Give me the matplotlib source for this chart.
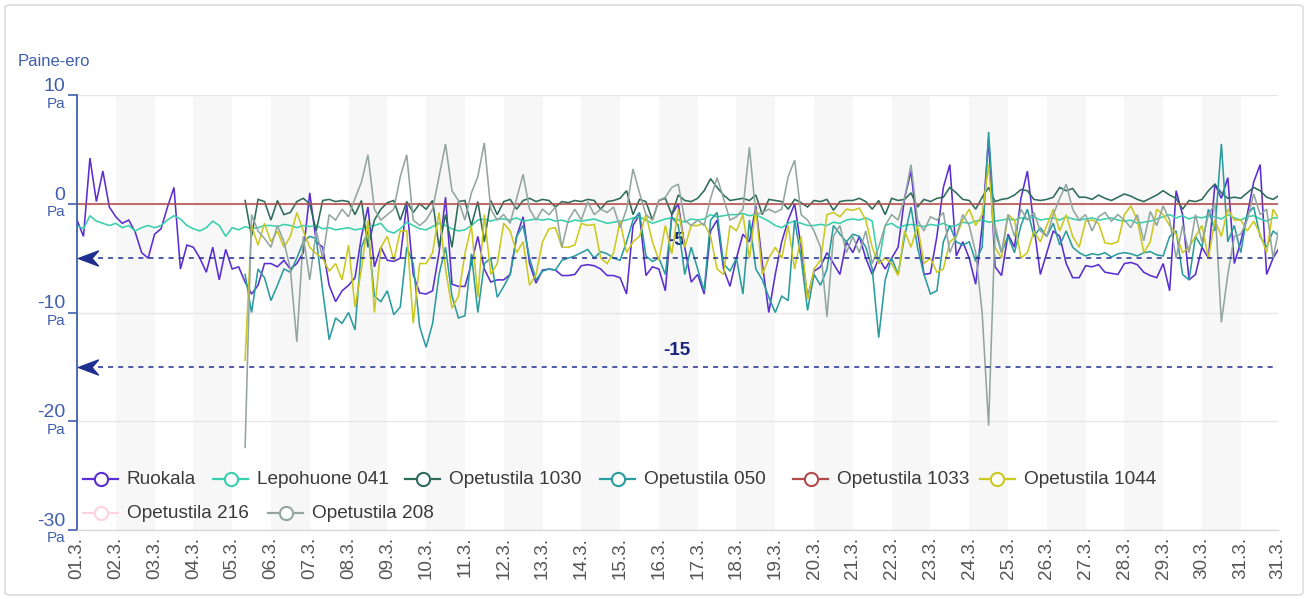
import numpy as np
import matplotlib
matplotlib.use("Agg")
import matplotlib.pyplot as plt
from matplotlib.lines import Line2D
from matplotlib.patches import FancyBboxPatch
from matplotlib.path import Path

plt.rcParams['font.family'] = ['Liberation Sans', 'DejaVu Sans']

nan = np.nan
STEP_HOURS = 4  # sample spacing of the series below (6 samples per day, starting 01.3. 00:00)

# ---------------- data (Pa) ----------------
ruokala = [
    -1.5, -3.0, 4.2, 0.2, 3.0, -0.3,
    -1.2, -1.8, -1.5, -2.6, -4.5, -5.0,
    -2.8, -2.3, -0.3, 1.5, -6.0, -3.8,
    -4.0, -5.0, -6.3, -4.0, -7.0, -4.2,
    -6.0, -5.8, -7.2, -8.3, -7.5, -5.5,
    -5.5, -5.8, -5.2, -6.0, -5.5, -4.5,
    1.0, -3.5, -4.0, -7.5, -9.0, -8.0,
    -7.5, -6.8, -3.0, -0.3, -5.8, -4.0,
    -5.2, -5.3, -5.0, 0.0, -6.5, -8.2,
    -8.3, -8.0, -4.5, 0.6, -7.4, -7.6,
    -7.6, -5.5, -3.0, -6.0, -7.2, -7.0,
    -7.0, -6.5, -3.0, -1.2, -5.5, -7.3,
    -6.1, -6.0, -6.1, -6.6, -6.6, -6.5,
    -5.7, -5.6, -5.7, -6.0, -6.6, -6.6,
    -6.8, -8.3, -2.0, -1.0, -6.6, -5.8,
    -6.0, -8.0, -1.0, 0.0, -4.0, -7.2,
    -6.5, -8.3, -2.5, -1.5, -6.0, -7.6,
    -5.0, -2.8, -3.5, -0.2, -5.5, -10.0,
    -6.5, -3.5, -1.5, 0.0, -4.0, -8.6,
    -6.2, -5.8, -4.5, -5.5, -6.5, -3.5,
    -4.5, -3.0, -5.0, -6.5, -5.0, -6.0,
    -5.0, -4.0, 0.5, 3.0, -2.5, -6.5,
    -6.4, -3.0, 1.5, 3.6, -4.8, -3.5,
    -5.0, -7.4, -2.0, 6.0, -5.8, -6.6,
    -2.8, -4.0, 0.5, 3.0, -2.0, -6.5,
    -4.5, -2.5, -3.0, -5.5, -6.8, -6.8,
    -5.7, -5.8, -5.6, -6.3, -6.4, -6.5,
    -5.5, -5.4, -5.6, -6.3, -6.6, -6.8,
    -5.5, -8.0, 1.2, -1.0, -7.0, -6.5,
    -4.0, -5.0, 1.8, 0.5, 2.4, -5.5,
    -3.5, -1.0, 2.0, 3.6, -6.5, -5.0,
    -4.0,
]

lepohuone_041 = [
    -2.0, -2.3, -1.1, -1.6, -1.8, -2.0,
    -1.8, -2.2, -2.0, -2.5, -2.2, -2.0,
    -2.2, -2.0, -1.5, -1.1, -1.4, -2.0,
    -2.3, -2.5, -2.2, -1.6, -2.0, -3.0,
    -2.2, -2.4, -2.1, -2.3, -2.2, -2.0,
    -2.0, -2.1, -1.9, -2.0, -2.2, -2.0,
    -2.1, -2.0, -2.3, -2.2, -2.4, -2.3,
    -2.2, -2.4, -2.3, -2.1, -2.0, -1.8,
    -2.5, -2.7, -2.3, -1.7, -2.0, -2.3,
    -2.4, -2.1, -1.8, -2.0, -2.3, -2.5,
    -2.4, -2.0, -1.5, -1.4, -1.6, -1.4,
    -1.4, -1.5, -1.3, -1.6, -1.5, -1.4,
    -1.5, -1.4, -1.6, -1.5, -1.7, -1.5,
    -1.6, -1.5, -1.4, -1.6, -1.8, -1.7,
    -1.6, -1.5, -1.3, -1.2, -1.5, -1.8,
    -1.6, -1.4, -1.3, -1.5, -1.7, -1.4,
    -1.5, -1.4, -1.0, -1.2, -1.1, -1.0,
    -1.0, -0.9, -1.1, -1.0, -1.3, -1.6,
    -2.0, -2.2, -1.8, -1.6, -1.8, -2.0,
    -2.0, -1.9, -2.0, -1.7, -1.8, -1.5,
    -1.4, -1.5, -1.3, -1.6, -5.5, -2.0,
    -1.8, -2.2, -2.0, -1.9, -2.0, -2.1,
    -1.9, -2.0, -1.8, -2.1, -2.0, -1.7,
    -1.8, -1.6, -1.5, -1.7, -1.6, -1.5,
    -1.4, -1.5, -1.3, -1.4, -1.2, -1.5,
    -1.4, -1.3, -1.5, -1.2, -1.4, -1.5,
    -1.4, -1.3, -1.5, -1.4, -1.3, -1.5,
    -1.6, -1.5, -1.8, -1.7, -1.6, -1.4,
    -1.2, -1.0, -1.3, -1.1, -1.4, -1.2,
    -1.3, -1.1, -1.2, -1.4, -1.0, -1.3,
    -1.5, -1.2, -1.1, -1.4, -1.6, -1.3,
    -1.3,
]

# sensors below started reporting on 05.3. 08:00 (no data before)
opetustila_1030 = [nan] * 26 + [
    0.3, -3.0, 0.4, 0.2,
    -1.5, 0.3, -1.0, -0.8, 0.2, 0.5,
    0.0, -2.5, 0.3, 0.4, 0.2, 0.3,
    0.2, -1.0, 0.3, -4.0, -1.5, -0.5,
    0.1, 0.3, -1.5, 0.2, -0.8, 0.0,
    -0.5, 0.3, -4.0, -1.0, -4.0, 0.2,
    0.3, -2.0, 0.2, -3.5, 0.3, -1.0,
    0.2, 0.4, -0.5, 0.3, 0.5, 0.2,
    0.4, 0.3, -0.3, 0.2, 0.1, 0.3,
    0.2, 0.4, 0.3, -0.5, 0.2, 0.3,
    0.5, 1.2, -1.0, 0.4, 0.2, -1.5,
    0.3, 0.5, -1.0, 0.8, 0.3, 0.2,
    0.5, 1.2, 2.3, 1.5, 0.8, 0.3,
    0.4, 0.5, 0.3, 0.8, -1.0, 0.4,
    0.3, 0.2, -0.5, 0.4, 0.1, -0.3,
    0.3, 0.2, 0.4, -0.6, 0.2, 0.3,
    0.3, 0.5, 0.2, -0.5, 0.3, -1.0,
    0.5, 0.3, 0.4, 1.0, -0.3, 0.4,
    0.2, 0.5, 0.6, 1.5, 1.0, 0.4,
    0.3, -0.5, 0.6, 1.5, 0.2, 0.4,
    0.5, 0.8, 1.3, 1.2, 0.4, 0.3,
    0.4, 0.6, 1.5, 1.2, 1.4, 0.6,
    0.6, 0.4, 0.8, 0.5, 0.3, 0.6,
    0.9, 0.7, 0.4, 0.2, 0.5, 0.8,
    1.2, 0.8, 0.5, -0.5, 0.3, 0.2,
    0.4, 1.2, 1.8, 1.0, 0.5, 0.6,
    0.5, 1.0, 1.5, 1.2, 0.6, 0.4,
    0.8,
]

opetustila_050 = [nan] * 26 + [
    -6.5, -10.0, -6.0, -6.8,
    -8.9, -7.5, -6.0, -6.3, -5.0, -3.5,
    -3.0, -3.2, -8.0, -12.5, -10.5, -11.0,
    -10.0, -11.6, -4.0, -2.5, -8.5, -9.0,
    -8.0, -10.2, -9.5, -4.0, -5.5, -11.3,
    -13.2, -11.0, -6.5, -4.0, -8.5, -10.5,
    -10.3, -4.6, -10.0, -5.5, -5.0, -8.6,
    -7.6, -6.5, -3.0, -2.0, -5.0, -7.0,
    -6.2, -6.0, -6.1, -5.2, -5.0, -4.8,
    -4.5, -4.2, -5.0, -4.4, -4.6, -5.0,
    -5.2, -3.5, -1.5, -0.8, -4.8, -5.3,
    -5.0, -6.5, -1.2, -2.0, -6.5, -4.0,
    -6.0, -8.0, -1.5, -0.8, -5.5, -6.2,
    -5.0, -8.3, -1.5, -6.0, -7.0, -8.6,
    -10.0, -8.5, -8.9, -1.5, -5.0, -9.8,
    -6.5, -7.5, -6.0, -2.0, -2.8, -3.5,
    -2.8, -3.0, -4.0, -6.0, -12.3, -7.0,
    -5.0, -6.5, -3.0, -0.3, -4.0, -6.5,
    -8.3, -8.0, -3.5, -2.0, -3.5, -3.8,
    -3.5, -5.3, -4.0, 6.6, -2.5, -4.5,
    -3.0, -4.5, -2.0, -0.5, -3.0, -2.2,
    -3.0, -1.8, -3.8, -2.5, -4.0, -4.5,
    -4.8, -4.6, -4.7, -4.5, -4.9, -4.6,
    -4.5, -4.6, -4.8, -4.5, -4.4, -4.7,
    -4.8, -3.0, -2.5, -6.5, -7.0, -3.0,
    -4.0, -0.5, -2.5, 5.5, -3.5, -2.0,
    -4.5, -1.0, -0.3, -3.0, -4.0, -2.5,
    -3.0,
]

# flat sensor, one value per day (01.3. ... 01.4.)
opetustila_1033 = [
    0.0, 0.0, 0.0, 0.0, 0.0, 0.0, 0.0, 0.0,
    0.0, 0.0, 0.0, 0.0, 0.0, 0.0, 0.0, 0.0,
    0.0, 0.0, 0.0, 0.0, 0.0, 0.0, 0.0, 0.0,
    0.0, 0.0, 0.0, 0.0, 0.0, 0.0, 0.0, 0.0,
]

opetustila_1044 = [nan] * 26 + [
    -14.4, -2.0, -3.8, -1.8,
    -3.5, -2.5, -4.0, -3.0, -0.8, -2.5,
    -4.0, -4.6, -5.0, -6.2, -5.5, -7.0,
    -3.8, -9.5, -6.0, -1.5, -10.0, -4.0,
    -3.0, -5.2, -2.5, -2.5, -11.0, -5.5,
    -5.5, -4.5, -0.8, -6.0, -9.6, -8.5,
    -4.6, -2.0, -8.6, -1.0, -6.5, -5.5,
    -1.8, -2.5, -4.5, -3.5, -7.5, -6.5,
    -3.5, -2.3, -2.2, -4.0, -4.0, -3.8,
    -1.8, -2.0, -1.9, -5.0, -5.5, -4.5,
    -1.6, -4.5, -3.5, -3.0, -1.0, -3.5,
    -5.2, -2.0, -4.6, -0.5, -4.0, -2.0,
    -2.0, -1.8, -3.0, -6.0, -6.5, -2.0,
    -2.5, -1.0, -5.0, -0.5, -6.5, -5.0,
    -4.0, -5.0, -2.0, -6.0, -3.0, -8.8,
    -6.0, -5.2, -1.0, -0.8, -1.2, -0.5,
    -0.6, -0.4, -1.5, -4.0, -5.5, -5.0,
    -5.5, -6.6, -2.5, -4.0, -2.0, -5.5,
    -5.0, -6.3, -6.0, -3.5, -3.0, -1.5,
    -0.5, -2.0, -1.0, 3.6, -4.0, -5.0,
    -1.0, -1.5, -5.0, -4.5, -2.5, -3.5,
    -2.0, -0.5, -2.5, -1.0, -3.0, -4.0,
    -1.6, -1.5, -1.8, -3.6, -3.7, -3.5,
    -1.0, -0.2, -1.5, -4.5, -3.5, -0.5,
    -1.0, -2.0, -2.8, -4.5, -4.0, -3.0,
    -2.0, -5.0, -1.5, -3.0, -0.5, -1.5,
    -1.5, -2.5, -1.6, -2.8, -4.5, -0.5,
    -1.5,
]

opetustila_216 = []  # no data in this period

opetustila_208 = [nan] * 26 + [
    -22.4, -1.0, -2.5, -3.2,
    -4.0, -2.0, -3.5, -6.0, -12.7, -3.0,
    -7.0, -2.5, -5.0, -1.0, -1.5, -0.5,
    -1.2, 0.5, 2.0, 4.5, -0.5, -1.5,
    -1.0, -0.5, 2.5, 4.5, -1.5, -2.0,
    -1.5, -0.5, 2.5, 5.5, 1.2, 0.3,
    -1.5, 1.0, 2.5, 5.6, -0.5, -1.5,
    -1.0, -1.8, 0.5, 2.7, -0.5, -1.5,
    -0.5, -1.0, -0.3, -4.0, -1.5, -0.5,
    -1.5, 0.2, -1.0, -0.5, -0.8, -0.3,
    -2.2, -0.5, 3.2, 1.0, -1.0, -1.5,
    0.3, 0.6, 1.5, 1.8, -1.5, -2.0,
    -1.5, -2.0, 0.5, 2.4, 0.5, -1.5,
    -1.2, -0.5, 5.2, -1.0, -0.8, -0.5,
    -0.8, -0.5, 2.5, 4.0, -1.0, -1.5,
    -2.5, -4.0, -10.4, -3.0, -2.0, -4.5,
    -3.0, -4.5, -2.5, -5.5, -4.0, -2.0,
    -1.0, -1.5, 0.5, 3.6, -1.5, -2.5,
    -1.2, -1.5, -0.8, -4.5, -3.0, -1.0,
    -2.0, -4.5, -10.0, -20.4, -2.0, -4.5,
    -1.0, -3.0, -0.5, -1.5, -0.8, -2.5,
    -3.0, -1.0, 0.5, 1.8, -0.5, -1.5,
    -1.0, -2.5, -1.2, -0.8, -1.6, -1.0,
    -1.5, -2.2, -1.0, -3.4, -0.7, -2.0,
    -0.2, -1.5, -5.0, -2.0, -4.5, -1.0,
    -3.5, -1.0, 0.0, -10.9, -6.5, -3.0,
    -2.8, -1.5, 0.9, -1.0, -0.5, -5.0,
    -2.0,
]

series_names = ["Ruokala", "Lepohuone 041", "Opetustila 1030", "Opetustila 050",
                "Opetustila 1033", "Opetustila 1044", "Opetustila 216", "Opetustila 208"]
series_values = [ruokala, lepohuone_041, opetustila_1030, opetustila_050,
                 opetustila_1033, opetustila_1044, opetustila_216, opetustila_208]
series_step_days = [STEP_HOURS / 24] * 4 + [1.0] + [STEP_HOURS / 24] * 3

day_labels = ["%02d.3." % d for d in range(1, 32)]
end_label = "31.3."
n_days_span = 30.96          # axis ends 31.3. ~23:00

limit_values = [-5, -15]
y_ticks = [-30, -20, -10, 0, 10]

# ---------------- style ----------------
colors = ["#5a2ed1", "#38cfad", "#2d6b5b", "#2b9c9e",
          "#b24b4b", "#cbc820", "#ffd3de", "#92a69f"]
AXIS_BLUE = "#3f5fae"
NAVY = "#1f2f8f"
TEXT_GREY = "#3a3a3a"

W, H = 1308, 599
fig = plt.figure(figsize=(W / 100, H / 100), dpi=100)

def fx(px):
    return px / W

def fy(py):
    return 1 - py / H

# outer frame
frame = FancyBboxPatch((fx(5), fy(595)), fx(1298), 590 / H,
                       boxstyle="round,pad=0,rounding_size=0.004",
                       transform=fig.transFigure, facecolor="white",
                       edgecolor="#d6d6d6", linewidth=1.0, zorder=-10)
fig.add_artist(frame)

ax = fig.add_axes([fx(77), fy(530), fx(1278) - fx(77), (530 - 95) / H])
ax.set_facecolor("none")
ax.set_xlim(0, n_days_span)
ax.set_ylim(-30, 10)

# alternating day bands
for d in range(1, 31, 2):
    ax.axvspan(d, d + 1, color="#f7f7f7", lw=0, zorder=0)

ax.set_axisbelow(True)
ax.yaxis.grid(True, color="#e6e6e6", lw=1.0)
ax.xaxis.grid(False)

# series
for name, vals, step, c in zip(series_names, series_values, series_step_days, colors):
    if len(vals) == 0:
        continue
    v = np.array(vals, dtype=float)
    t = np.arange(len(v)) * step
    ax.plot(t, v, color=c, lw=1.15, zorder=2, solid_joinstyle="miter")

# limit lines with arrows and labels
arrow = Path([(-1, 0), (1, 0.75), (0.35, 0), (1, -0.75), (-1, 0)],
             [Path.MOVETO, Path.LINETO, Path.LINETO, Path.LINETO, Path.CLOSEPOLY])
for lv, ly in zip(limit_values, [-3.4, -13.5]):
    ax.hlines(lv, 0.54, 30.9, colors=NAVY, linestyles=(0, (3.3, 3.3)), lw=1.1, zorder=4)
    ax.plot([0.28], [lv], marker=arrow, ms=14.4, color=NAVY, mec=NAVY, zorder=5,
            clip_on=False, linestyle="none")
    ax.text(15.46, ly, str(lv), ha="center", va="center", fontsize=13.6,
            fontweight="bold", color="#1a237e", zorder=1.5)

# spines
for s in ["top", "right"]:
    ax.spines[s].set_visible(False)
ax.spines["left"].set_color(AXIS_BLUE)
ax.spines["left"].set_linewidth(1.3)
ax.spines["bottom"].set_color("#d8d8d8")
ax.spines["bottom"].set_linewidth(1.0)

# y ticks (custom two-line labels)
ax.set_yticks(y_ticks)
ax.set_yticklabels([""] * len(y_ticks))
ax.tick_params(axis="y", length=6.5, width=1.2, color=AXIS_BLUE, direction="out")
for yv in y_ticks:
    ax.annotate(str(yv), xy=(0, yv), xycoords=("axes fraction", "data"),
                xytext=(-12, 8.5), textcoords="offset pixels",
                ha="right", va="center", fontsize=14, color=AXIS_BLUE)
    ax.annotate("Pa", xy=(0, yv), xycoords=("axes fraction", "data"),
                xytext=(-12, -8.5), textcoords="offset pixels",
                ha="right", va="center", fontsize=11, color=AXIS_BLUE)

# x ticks
ax.set_xticks(list(range(len(day_labels))) + [n_days_span])
ax.set_xticklabels(day_labels + [end_label], rotation=90, fontsize=13.6, color="#555555")
ax.tick_params(axis="x", length=0, pad=5)

# axis title
fig.text(fx(18), fy(62), "Paine-ero", fontsize=12, color=AXIS_BLUE, ha="left", va="center")

# legend (manual, row-wise like the original)
legend_layout = [(83, 479), (213, 479), (405, 479), (600, 479), (793, 479), (980, 479),
                 (83, 513), (268, 513)]
for (x0, yc), name, c in zip(legend_layout, series_names, colors):
    fig.add_artist(Line2D([fx(x0), fx(x0 + 35)], [fy(yc), fy(yc)],
                          transform=fig.transFigure, color=c, lw=1.6, zorder=6))
    fig.add_artist(Line2D([fx(x0 + 17.5)], [fy(yc)], transform=fig.transFigure,
                          marker="o", ms=9.5, mfc="white", mec=c, mew=1.5,
                          linestyle="none", zorder=7))
    fig.text(fx(x0 + 44), fy(yc), name, fontsize=13.7, color=TEXT_GREY,
             ha="left", va="center", zorder=7)

fig.savefig("out.png", dpi=100)
